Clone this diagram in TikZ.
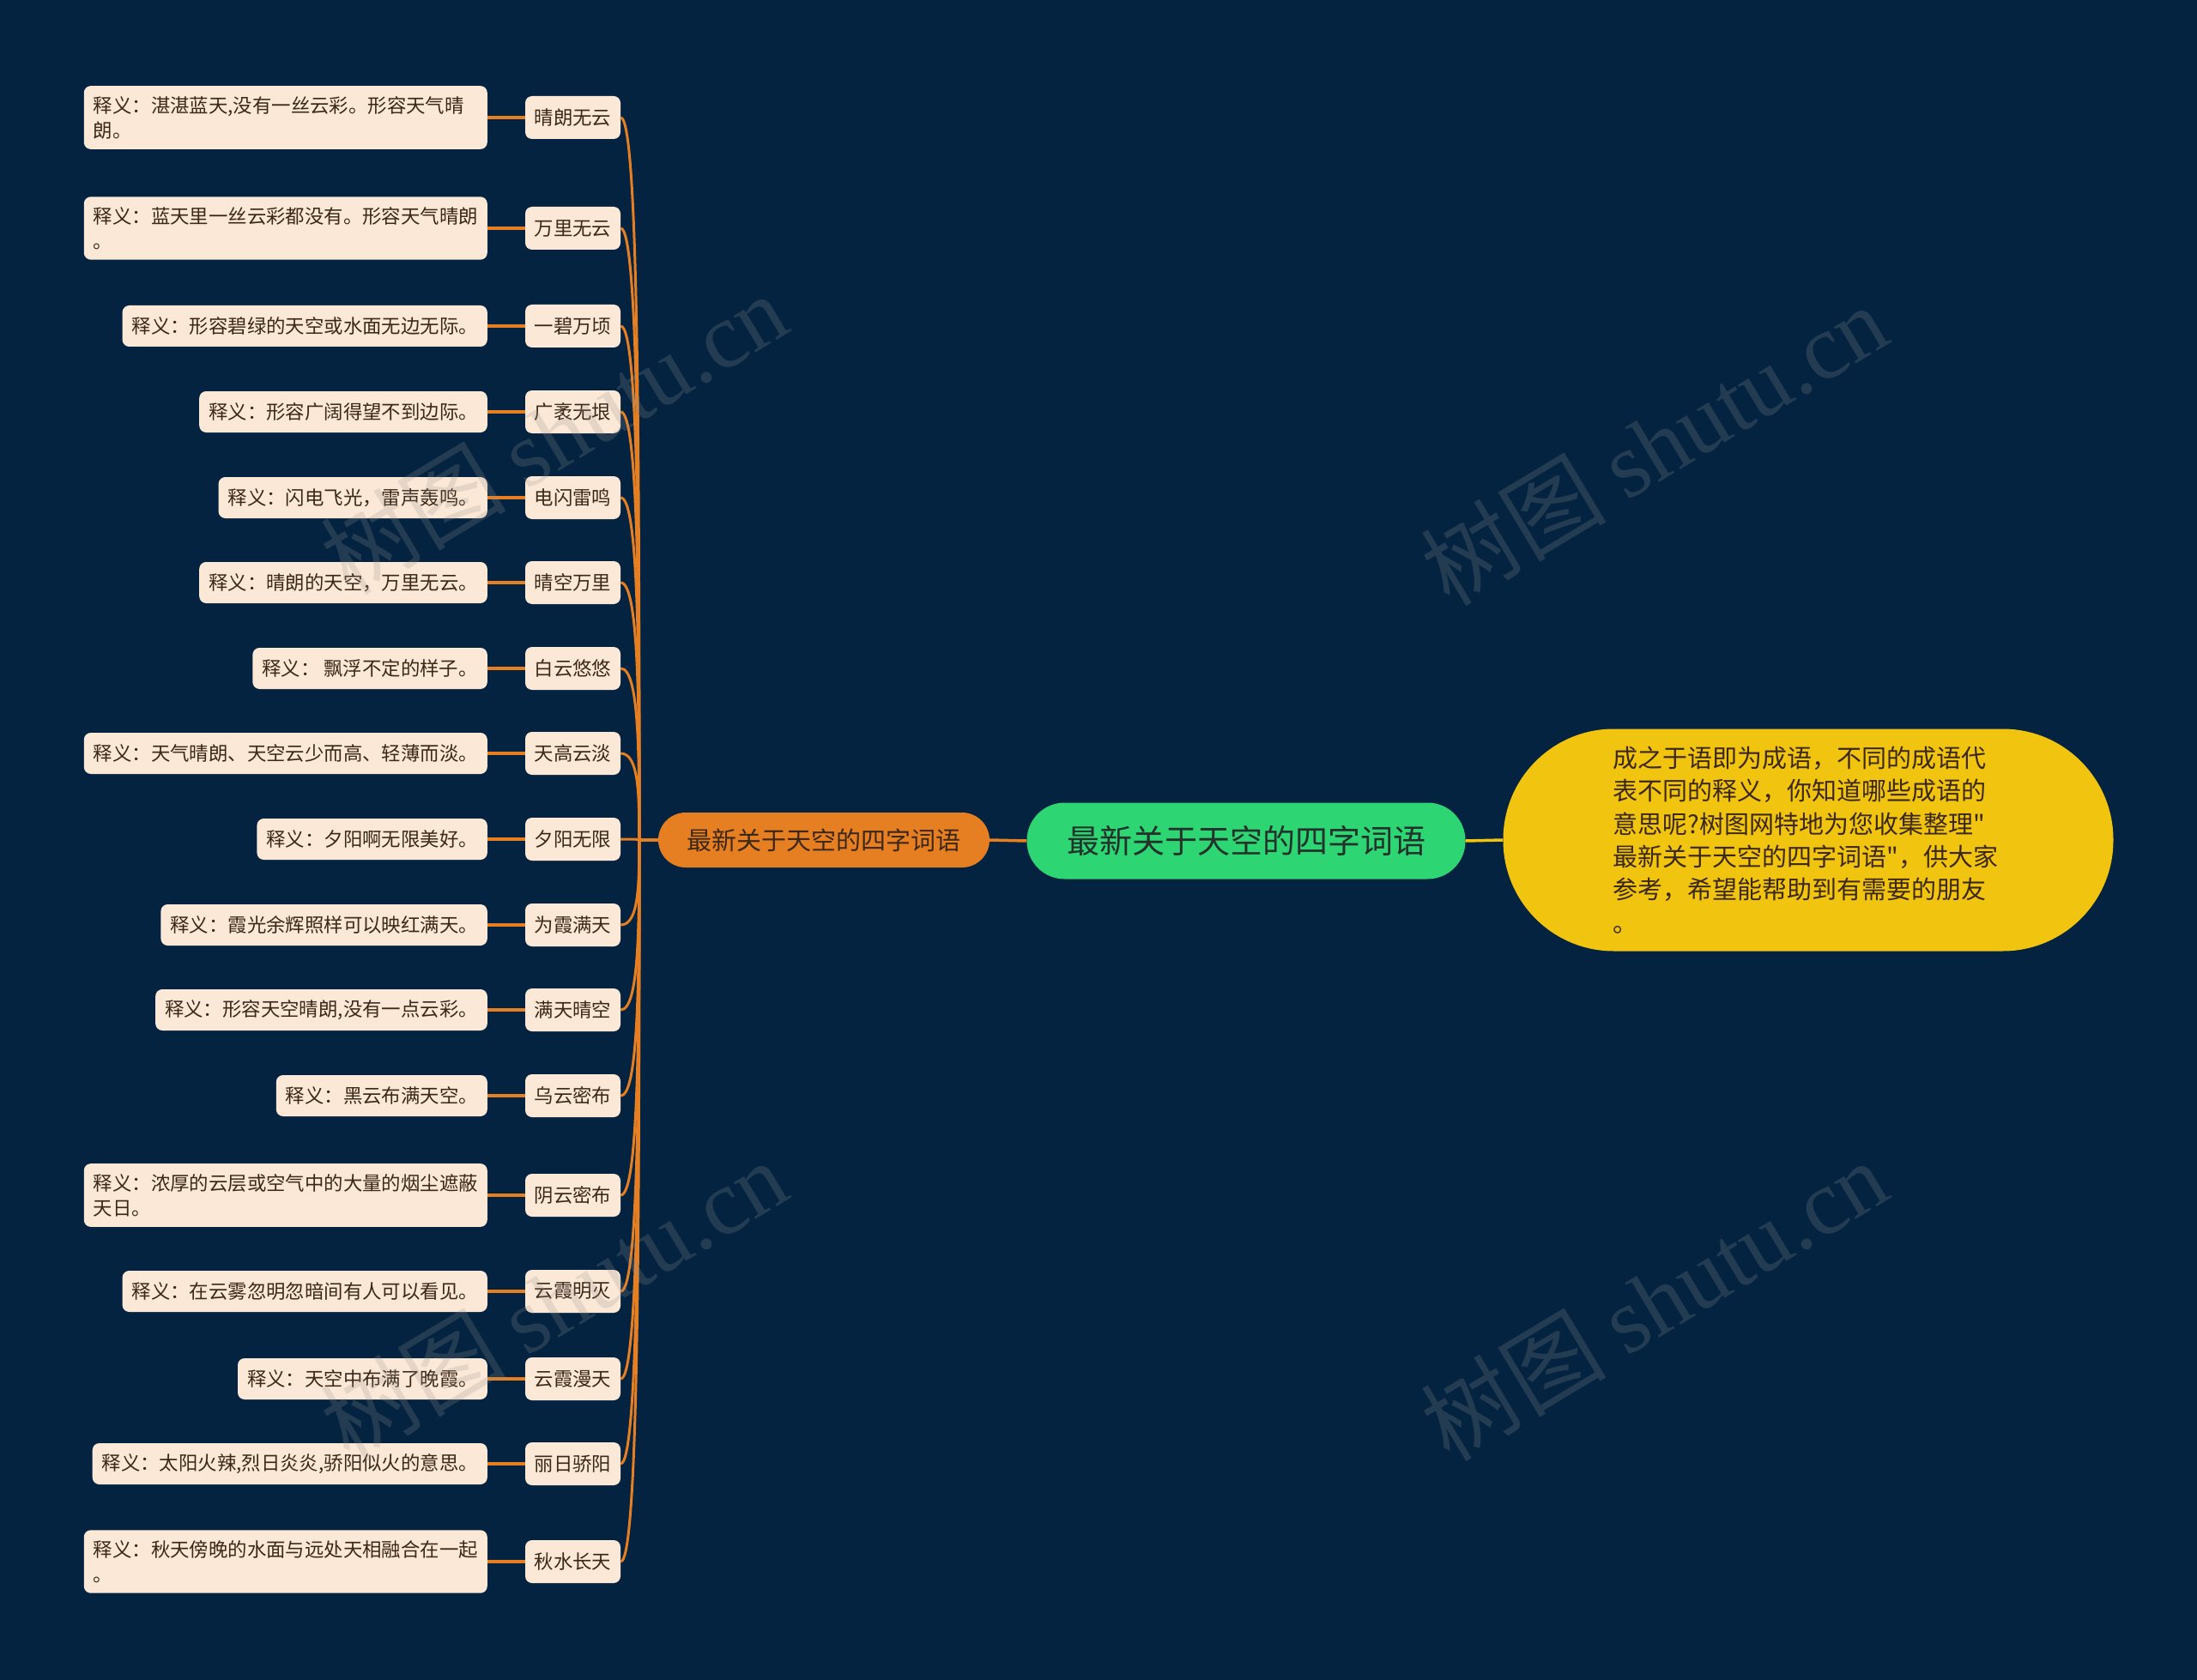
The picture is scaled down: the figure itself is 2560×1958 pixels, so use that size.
\documentclass[tikz,border=0pt]{standalone}
\usepackage{fontspec}
\setmainfont{Noto Sans CJK SC}[Ligatures=TeXOff]
\newfontfamily\wmserif{Liberation Serif}
\usetikzlibrary{calc}
\definecolor{bgc}{RGB}{3,35,64}
\definecolor{rootc}{RGB}{46,213,115}
\definecolor{orgc}{RGB}{230,126,34}
\definecolor{yelc}{RGB}{241,196,15}
\definecolor{creamc}{RGB}{252,232,214}
\definecolor{browntxt}{RGB}{60,40,24}
\definecolor{roottxt}{RGB}{35,50,42}
\definecolor{wmc}{RGB}{150,150,150}
\tikzset{
  itembox/.style={fill=creamc, rounded corners=8pt, minimum width=111pt, minimum height=50pt,
    inner sep=0pt, text=browntxt, font=\fontsize{22.4}{29}\selectfont},
  descbox/.style={fill=creamc, rounded corners=8pt, minimum height=48pt, inner xsep=11pt,
    inner ysep=12pt, text=browntxt, font=\fontsize{22.4}{29}\selectfont, align=left, anchor=east},
  desctwo/.style={descbox, text width=448pt},
  conn/.style={draw=orgc, line width=3.5pt},
  curv/.style={draw=orgc, line width=3pt},
  wmark/.style={text=wmc, opacity=0.22, font=\fontsize{108}{108}\selectfont, rotate=31}
}
\begin{document}
\begin{tikzpicture}[x=1pt,y=-1pt]
\useasboundingbox (0,0) rectangle (2560,1958);
\fill[bgc] (0,0) rectangle (2560,1958);

% main nodes
\node[fill=rootc, rounded corners=44pt, minimum width=511pt, minimum height=89pt, inner sep=0pt,
  text=roottxt, font=\fontsize{38}{40}\selectfont] (root) at (1452,980) {最新关于天空的四字词语};
\node[fill=orgc, rounded corners=32pt, minimum width=386pt, minimum height=64pt, inner sep=0pt,
  text=browntxt, font=\fontsize{29}{31}\selectfont] (org) at (960,979) {最新关于天空的四字词语};
\node[fill=yelc, rounded corners=129pt, minimum height=259pt, text width=455pt, inner xsep=128pt,
  inner ysep=0pt, align=left, text=browntxt, font=\fontsize{29}{38.4}\selectfont] (yel) at (2107,979)
  {成之于语即为成语，不同的成语代\\表不同的释义，你知道哪些成语的\\意思呢?树图网特地为您收集整理"\\最新关于天空的四字词语"，供大家\\参考，希望能帮助到有需要的朋友\\。};

\draw[draw=yelc, line width=3.5pt] (root.east) -- (yel.west);
\draw[conn] (org.east) -- (root.west);
\coordinate (hub) at ($(org.west)+(-22,0)$);
\draw[conn] (org.west) -- (hub);

% items
\node[itembox] (i1) at (667.5,137) {晴朗无云};
\node[itembox] (i2) at (667.5,266) {万里无云};
\node[itembox] (i3) at (667.5,380) {一碧万顷};
\node[itembox] (i4) at (667.5,480) {广袤无垠};
\node[itembox] (i5) at (667.5,580) {电闪雷鸣};
\node[itembox] (i6) at (667.5,679) {晴空万里};
\node[itembox] (i7) at (667.5,779) {白云悠悠};
\node[itembox] (i8) at (667.5,878) {天高云淡};
\node[itembox] (i9) at (667.5,978) {夕阳无限};
\node[itembox] (i10) at (667.5,1078) {为霞满天};
\node[itembox] (i11) at (667.5,1177) {满天晴空};
\node[itembox] (i12) at (667.5,1277) {乌云密布};
\node[itembox] (i13) at (667.5,1393) {阴云密布};
\node[itembox] (i14) at (667.5,1505) {云霞明灭};
\node[itembox] (i15) at (667.5,1607) {云霞漫天};
\node[itembox] (i16) at (667.5,1706) {丽日骄阳};
\node[itembox] (i17) at (667.5,1820) {秋水长天};

% descriptions
\node[desctwo] (d1) at (568,137) {释义：湛湛蓝天,没有一丝云彩。形容天气晴\\朗。};
\node[desctwo] (d2) at (568,266) {释义：蓝天里一丝云彩都没有。形容天气晴朗\\。};
\node[descbox] (d3) at (568,380) {释义：形容碧绿的天空或水面无边无际。};
\node[descbox] (d4) at (568,480) {释义：形容广阔得望不到边际。};
\node[descbox] (d5) at (568,580) {释义：闪电飞光，雷声轰鸣。};
\node[descbox] (d6) at (568,679) {释义：晴朗的天空，万里无云。};
\node[descbox] (d7) at (568,779) {释义： 飘浮不定的样子。};
\node[descbox] (d8) at (568,878) {释义：天气晴朗、天空云少而高、轻薄而淡。};
\node[descbox] (d9) at (568,978) {释义：夕阳啊无限美好。};
\node[descbox] (d10) at (568,1078) {释义：霞光余辉照样可以映红满天。};
\node[descbox] (d11) at (568,1177) {释义：形容天空晴朗,没有一点云彩。};
\node[descbox] (d12) at (568,1277) {释义：黑云布满天空。};
\node[desctwo] (d13) at (568,1393) {释义：浓厚的云层或空气中的大量的烟尘遮蔽\\天日。};
\node[descbox] (d14) at (568,1505) {释义：在云雾忽明忽暗间有人可以看见。};
\node[descbox] (d15) at (568,1607) {释义：天空中布满了晚霞。};
\node[descbox] (d16) at (568,1706) {释义：太阳火辣,烈日炎炎,骄阳似火的意思。};
\node[desctwo] (d17) at (568,1820) {释义：秋天傍晚的水面与远处天相融合在一起\\。};

\foreach \k in {1,...,17} {
  \draw[curv] (hub) .. controls ($(hub)!0.5!(hub |- i\k.east)$) and (hub |- i\k.east) .. (i\k.east);
  \draw[conn] (d\k.east) -- (i\k.west);
}

% watermarks
\node[wmark] (w1) at (645,505) {树图 {\wmserif shutu.cn}};
\node[wmark] (w2) at (1927,518) {树图 {\wmserif shutu.cn}};
\node[wmark] (w3) at (645,1515) {树图 {\wmserif shutu.cn}};
\node[wmark] (w4) at (1927,1515) {树图 {\wmserif shutu.cn}};
\end{tikzpicture}
\end{document}
